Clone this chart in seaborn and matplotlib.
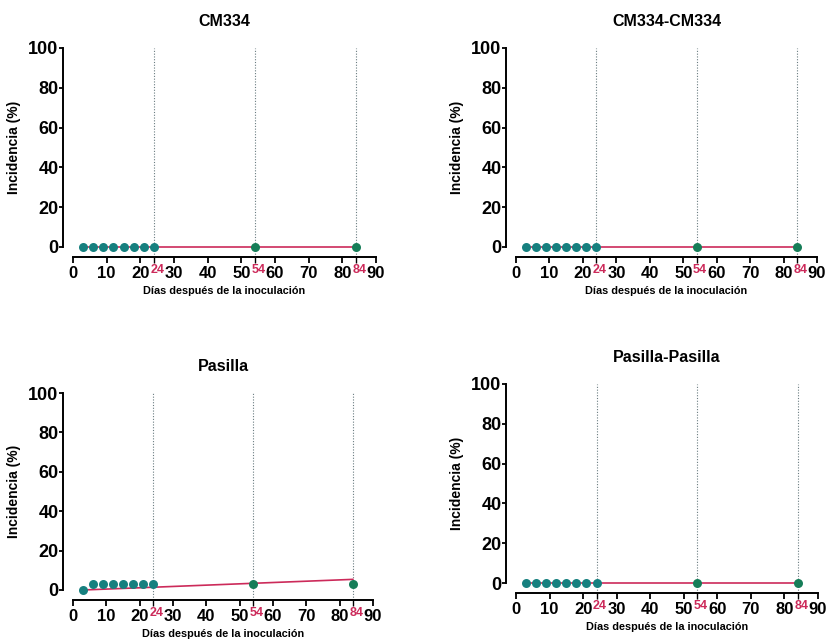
import matplotlib
matplotlib.use("Agg")
import matplotlib.pyplot as plt
import matplotlib.transforms as mtransforms
import seaborn as sns
import pandas as pd

sns.set_style("ticks", {"axes.edgecolor": "black", "xtick.color": "black",
                        "ytick.color": "black", "text.color": "black",
                        "axes.labelcolor": "black"})
plt.rcParams['font.family'] = ['Liberation Sans', 'DejaVu Sans']
plt.rcParams['font.weight'] = 'bold'

# ---- data ----
titles = ["CM334", "CM334-CM334", "Pasilla", "Pasilla-Pasilla"]
early_days = [3, 6, 9, 12, 15, 18, 21, 24]
late_days = [54, 84]
early_cm334 = [0, 0, 0, 0, 0, 0, 0, 0]
late_cm334 = [0, 0]
early_cm334_cm334 = [0, 0, 0, 0, 0, 0, 0, 0]
late_cm334_cm334 = [0, 0]
early_pasilla = [0, 3, 3, 3, 3, 3, 3, 3]
late_pasilla = [3, 3]
early_pasilla_pasilla = [0, 0, 0, 0, 0, 0, 0, 0]
late_pasilla_pasilla = [0, 0]
trend_days = [3, 84]
trend_cm334 = [0, 0]
trend_cm334_cm334 = [0, 0]
trend_pasilla = [0, 5.4]
trend_pasilla_pasilla = [0, 0]
marker_days = [24, 54, 84]
x_ticks = [0, 10, 20, 30, 40, 50, 60, 70, 80, 90]
y_ticks = [0, 20, 40, 60, 80, 100]

early_vals = [early_cm334, early_cm334_cm334, early_pasilla, early_pasilla_pasilla]
late_vals = [late_cm334, late_cm334_cm334, late_pasilla, late_pasilla_pasilla]
trend_vals = [trend_cm334, trend_cm334_cm334, trend_pasilla, trend_pasilla_pasilla]

W, H = 827, 643
fig = plt.figure(figsize=(W / 100, H / 100), dpi=100)

# axes boxes in pixels: (x0, x90, y0, y100)
boxes = [(73, 376, 247, 48), (516, 817, 247, 48),
         (73, 373, 590, 393), (516, 818, 583, 384)]

teal = "#16807f"
green = "#167d58"
red = "#cc2a5a"

for i, (x0, x1, y0, y1) in enumerate(boxes):
    ax = fig.add_axes([x0 / W, 1 - y0 / H, (x1 - x0) / W, (y0 - y1) / H])
    ax.set_xlim(0, 90)
    ax.set_ylim(0, 100)

    for d in marker_days:
        ax.axvline(d, ymin=-0.05, ymax=1, color="#6a7c80", lw=0.8,
                   ls=(0, (1, 1.5)), clip_on=False, zorder=1)

    tdf = pd.DataFrame({"x": trend_days, "y": trend_vals[i]})
    sns.lineplot(data=tdf, x="x", y="y", ax=ax, color=red, lw=1.2,
                 zorder=2, clip_on=False)

    edf = pd.DataFrame({"x": early_days, "y": early_vals[i]})
    ldf = pd.DataFrame({"x": late_days, "y": late_vals[i]})
    sns.scatterplot(data=edf, x="x", y="y", ax=ax, color=teal, s=42,
                    edgecolor=teal, linewidth=0, zorder=3, clip_on=False)
    sns.scatterplot(data=ldf, x="x", y="y", ax=ax, color=green, s=42,
                    edgecolor=green, linewidth=0, zorder=3, clip_on=False)

    for side in ["top", "right"]:
        ax.spines[side].set_visible(False)
    ax.spines["left"].set_position(("outward", 7))
    ax.spines["bottom"].set_position(("outward", 7))
    for side in ["left", "bottom"]:
        ax.spines[side].set_linewidth(1.4)
        ax.spines[side].set_color("black")

    ax.set_xticks(x_ticks)
    ax.set_xticklabels([str(t) for t in x_ticks], fontsize=12, fontweight="bold")
    ax.set_yticks(y_ticks)
    ax.set_yticklabels([str(t) for t in y_ticks], fontsize=13, fontweight="bold")
    ax.set_xticks(marker_days, minor=True)
    ax.set_xticklabels([str(t) for t in marker_days], minor=True,
                       fontsize=9, fontweight="bold", color=red)
    ax.tick_params(axis="x", which="major", length=4, width=1.3, pad=3)
    ax.tick_params(axis="y", which="major", length=3, width=1.3, pad=0.5)
    ax.tick_params(axis="x", which="minor", length=4, width=1.0, pad=1.5)
    shift = mtransforms.ScaledTranslation(3.5 / 100, 0, fig.dpi_scale_trans)
    for lab in ax.get_xticklabels(minor=True):
        lab.set_transform(lab.get_transform() + shift)
    ax.set_xlabel("Días después de la inoculación", fontsize=7.8,
                  fontweight="bold", labelpad=3)
    ax.set_ylabel("Incidencia (%)", fontsize=10, fontweight="bold", labelpad=5)
    ax.set_title(titles[i], fontsize=11.5, fontweight="bold", pad=16)
    ax.set_facecolor("white")

fig.savefig("out.png", dpi=100, facecolor="white")
